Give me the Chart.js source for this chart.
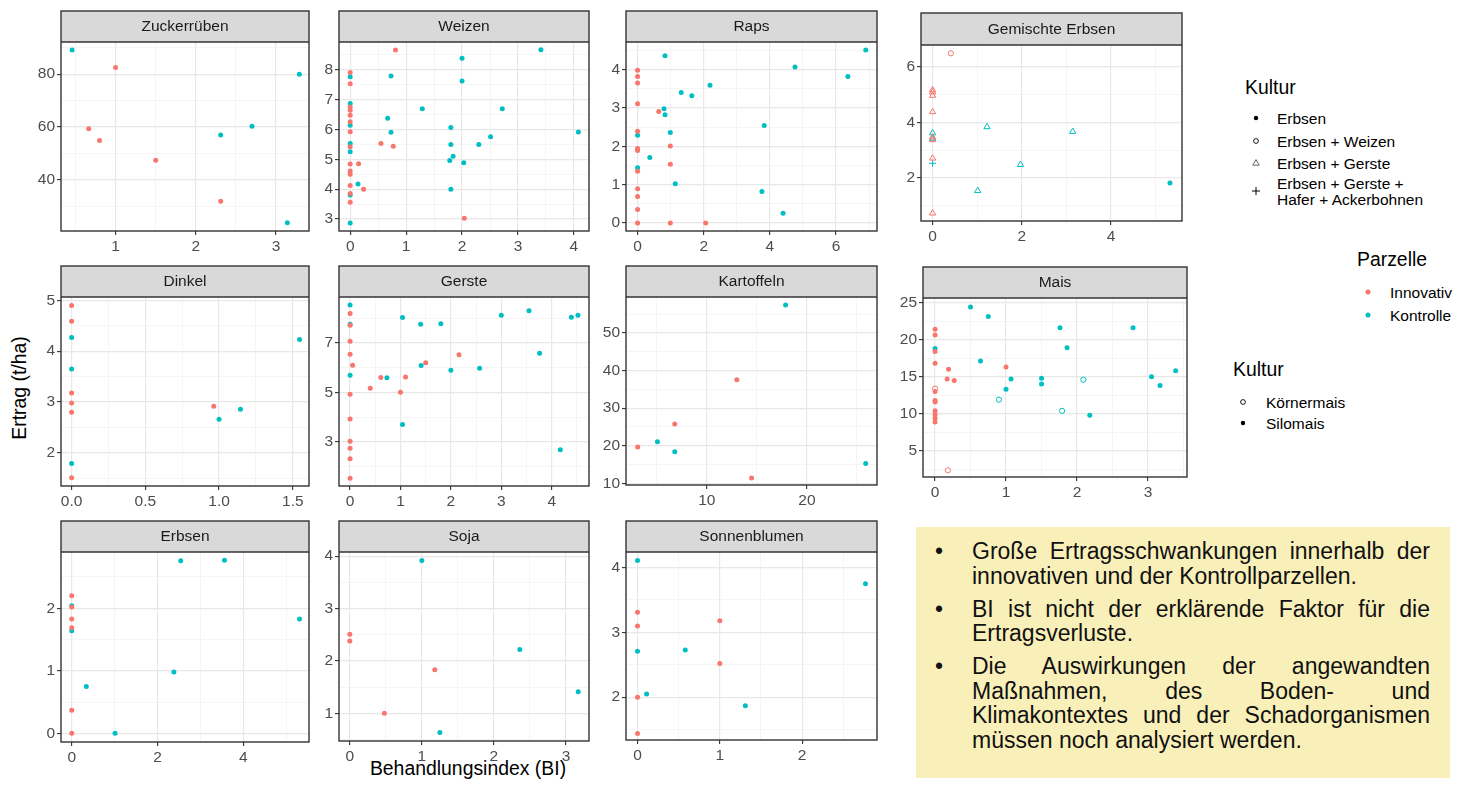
<!DOCTYPE html>
<html lang="de">
<head>
<meta charset="utf-8">
<title>Ertrag und Behandlungsindex</title>
<script src="https://cdn.jsdelivr.net/npm/chart.js@4.4.1/dist/chart.umd.min.js"></script>
<style>
  body { margin: 0; width: 1459px; height: 787px; position: relative; background: #fff; overflow: hidden;
         font-family: "Liberation Sans", Arial, sans-serif; }
  canvas { position: absolute; }
  .ttl { position: absolute; font-size: 19.4px; line-height: 1; color: #000; white-space: nowrap; }
  .lg { position: absolute; font-size: 15.5px; line-height: 1; color: #000; white-space: nowrap; }
  .sym { position: absolute; }
  .note { position: absolute; left: 916px; top: 527px; width: 534px; height: 251px; background: #F9F0B9;
          box-sizing: border-box; padding: 12px 20px 0 56px; font-size: 23px; line-height: 24.5px; color: #111; }
  .note p { margin: 0 0 8.5px 0; text-align: justify; position: relative; }
  .note p::before { content: "•"; position: absolute; left: -37px; }
</style>
</head>
<body>

<div class="ttl" style="left:20px; top:388px; transform: translate(-50%, -50%) rotate(-90deg);">Ertrag (t/ha)</div>
<div class="ttl" style="left:468px; top:759px; transform: translateX(-50%);">Behandlungsindex (BI)</div>

<!-- Legenden -->
<div class="ttl" style="left:1245px; top:78px;">Kultur</div>
<svg class="sym" style="left:1250px; top:112px;" width="12" height="12"><circle cx="6" cy="6" r="2.2" fill="#000"/></svg>
<div class="lg" style="left:1277px; top:111px;">Erbsen</div>
<svg class="sym" style="left:1250px; top:135px;" width="12" height="12"><circle cx="6" cy="6" r="2.4" fill="none" stroke="#000" stroke-width="0.9"/></svg>
<div class="lg" style="left:1277px; top:134px;">Erbsen + Weizen</div>
<svg class="sym" style="left:1250px; top:157px;" width="12" height="12"><polygon points="6,2.6 9.2,8.2 2.8,8.2" fill="none" stroke="#555" stroke-width="0.9"/></svg>
<div class="lg" style="left:1277px; top:156px;">Erbsen + Gerste</div>
<svg class="sym" style="left:1250px; top:185px;" width="12" height="12"><path d="M6 2 V10 M2 6 H10" stroke="#000" stroke-width="1"/></svg>
<div class="lg" style="left:1277px; top:176px;">Erbsen + Gerste +</div>
<div class="lg" style="left:1277px; top:192px;">Hafer + Ackerbohnen</div>

<div class="ttl" style="left:1357px; top:250px;">Parzelle</div>
<svg class="sym" style="left:1362px; top:286px;" width="12" height="12"><circle cx="6" cy="6" r="2.5" fill="#F8766D"/></svg>
<div class="lg" style="left:1390px; top:285px;">Innovativ</div>
<svg class="sym" style="left:1362px; top:309px;" width="12" height="12"><circle cx="6" cy="6" r="2.5" fill="#00BFC4"/></svg>
<div class="lg" style="left:1390px; top:308px;">Kontrolle</div>

<div class="ttl" style="left:1233px; top:360px;">Kultur</div>
<svg class="sym" style="left:1237px; top:396px;" width="12" height="12"><circle cx="6" cy="6" r="2.4" fill="none" stroke="#000" stroke-width="0.9"/></svg>
<div class="lg" style="left:1266px; top:395px;">Körnermais</div>
<svg class="sym" style="left:1237px; top:417px;" width="12" height="12"><circle cx="6" cy="6" r="2.2" fill="#000"/></svg>
<div class="lg" style="left:1266px; top:416px;">Silomais</div>

<div class="note">
  <p>Große Ertragsschwankungen innerhalb der innovativen und der Kontrollparzellen.</p>
  <p>BI ist nicht der erklärende Faktor für die Ertragsverluste.</p>
  <p>Die Auswirkungen der angewandten Maßnahmen, des Boden- und Klimakontextes und der Schadorganismen müssen noch analysiert werden.</p>
</div>

<script>
// Farben der Parzellen
const INNO = "#F8766D";
const KONTR = "#00BFC4";

// Daten [BI, Ertrag] je Kultur und Parzelle
const zuckerInno = [[1.0, 82.5], [0.665, 59.3], [0.8, 54.9], [1.5, 47.4], [2.31, 31.9]];
const zuckerKontr = [[0.458, 89.2], [3.29, 80.0], [2.31, 57.0], [2.7, 60.3], [3.14, 23.7]];

const weizenInno = [
  [0.81, 8.65], [0, 7.9], [0, 7.52], [0, 6.75], [0, 6.64], [0, 6.47], [0, 6.25], [0, 5.92],
  [0.55, 5.53], [0.77, 5.43], [0, 5.42], [0, 4.84], [0.15, 4.85], [0, 4.61], [0, 4.5],
  [0, 4.12], [0.24, 4.0], [0, 3.85], [0, 3.56], [2.04, 3.03]
];
const weizenKontr = [
  [3.41, 8.66], [2.0, 8.38], [2.0, 7.62], [0.73, 7.78], [0, 7.76], [0, 6.86], [1.29, 6.69],
  [2.72, 6.69], [0.67, 6.37], [0, 6.14], [1.8, 6.06], [0.73, 5.9], [4.08, 5.91], [2.51, 5.75],
  [0, 5.53], [1.8, 5.49], [2.3, 5.49], [0, 5.25], [1.84, 5.1], [1.78, 4.96], [2.03, 4.88],
  [0.14, 4.17], [1.8, 4.0], [0, 3.8], [0, 2.87]
];

const rapsInno = [
  [0, 3.98], [0, 3.82], [0, 3.65], [0, 3.11], [0.64, 2.91], [0, 2.39], [0.99, 2.01], [0, 1.94],
  [0, 1.89], [0.99, 1.53], [0, 1.35], [0, 0.89], [0, 0.69], [0, 0.35], [0, 0], [0.99, 0], [2.06, 0]
];
const rapsKontr = [
  [6.9, 4.51], [0.83, 4.36], [4.76, 4.07], [6.36, 3.82], [2.19, 3.59], [1.32, 3.4], [1.64, 3.32],
  [0.8, 2.98], [0.83, 2.82], [3.83, 2.54], [0.99, 2.36], [0, 2.29], [0.37, 1.71], [0, 1.44],
  [1.14, 1.02], [3.76, 0.82], [4.4, 0.25]
];

const gemInnoGerste = [[0, 5.17], [0, 5.09], [0, 4.97], [0, 4.38], [0, 3.47], [0, 3.37], [0, 2.71], [0, 0.73]];
const gemInnoWeizen = [[0.41, 6.49]];
const gemKontrGerste = [[0, 3.62], [0, 3.42], [1.22, 3.84], [3.14, 3.67], [1.97, 2.48], [1.01, 1.54]];
const gemKontrMisch = [[0, 2.53]];
const gemKontrErbsen = [[5.32, 1.82]];

const dinkelInno = [[0, 4.9], [0, 4.59], [0, 3.18], [0, 2.98], [0, 2.8], [0, 1.51], [0.964, 2.92]];
const dinkelKontr = [[0, 4.27], [0, 3.65], [0, 1.79], [1.0, 2.66], [1.145, 2.86], [1.546, 4.23]];

const gersteInno = [
  [0, 8.18], [0, 7.71], [0, 7.07], [0, 6.54], [0.05, 6.1], [0.61, 5.6], [1.1, 5.62], [1.5, 6.2],
  [2.16, 6.52], [0.4, 5.17], [1.0, 5.01], [0, 4.93], [0, 3.93], [0, 3.03], [0, 2.75], [0, 2.33], [0, 1.54]
];
const gersteKontr = [
  [0, 8.53], [0, 7.75], [0, 5.7], [1.04, 8.02], [1.4, 7.75], [1.8, 7.77], [3.0, 8.11], [3.55, 8.3],
  [4.39, 8.03], [4.52, 8.11], [3.76, 6.58], [0.73, 5.59], [1.41, 6.09], [2.0, 5.9], [2.57, 5.98],
  [1.04, 3.71], [4.17, 2.69]
];

const kartInno = [[3.1, 19.7], [6.8, 25.8], [13.0, 37.6], [14.47, 11.4]];
const kartKontr = [[17.87, 57.5], [5.07, 21.1], [6.8, 18.4], [25.87, 15.3]];

const maisInnoSilo = [
  [0, 21.4], [0, 20.6], [0, 18.4], [0, 16.8], [0.19, 16.0], [0.17, 14.7], [0.27, 14.5], [1.0, 16.3],
  [0, 13.0], [0, 11.8], [0, 11.6], [0, 10.4], [0, 9.9], [0, 9.4], [0, 8.9]
];
const maisInnoKoern = [[0.18, 2.4], [0, 13.4]];
const maisKontrSilo = [
  [0.5, 24.4], [0.75, 23.1], [0, 18.8], [0.64, 17.1], [1.76, 21.6], [1.86, 18.9], [2.79, 21.6],
  [1.07, 14.7], [1.0, 13.3], [1.5, 14.8], [1.5, 14.0], [3.05, 15.0], [3.17, 13.8], [3.39, 15.8], [2.18, 9.8]
];
const maisKontrKoern = [[0.9, 11.9], [1.79, 10.4], [2.09, 14.6]];

const erbsenInno = [[0, 2.2], [0, 2.02], [0, 1.83], [0, 1.69], [0, 0.37], [0, 0]];
const erbsenKontr = [[2.54, 2.76], [3.56, 2.77], [5.31, 1.83], [2.38, 0.98], [0.34, 0.75], [1.01, 0], [0, 2.04], [0, 1.64]];

const sojaInno = [[0, 2.51], [0, 2.38], [1.18, 1.83], [0.48, 1.0]];
const sojaKontr = [[1.0, 3.92], [2.36, 2.22], [3.17, 1.41], [1.25, 0.63]];

const sonnenInno = [[0, 3.31], [0, 3.1], [1.0, 3.18], [1.0, 2.52], [0, 2.0], [0, 1.44]];
const sonnenKontr = [[0, 4.11], [0, 2.71], [0.11, 2.05], [0.58, 2.73], [1.31, 1.87], [2.77, 3.75]];

// Achsenticks und Wertebereiche
const zuckerXTicks = [1, 2, 3], zuckerYTicks = [40, 60, 80];
const zuckerXRange = [0.32, 3.41], zuckerYRange = [20.6, 92.2];
const weizenXTicks = [0, 1, 2, 3, 4], weizenYTicks = [3, 4, 5, 6, 7, 8];
const weizenXRange = [-0.2, 4.27], weizenYRange = [2.6, 8.92];
const rapsXTicks = [0, 2, 4, 6], rapsYTicks = [0, 1, 2, 3, 4];
const rapsXRange = [-0.35, 7.24], rapsYRange = [-0.21, 4.72];
const gemXTicks = [0, 2, 4], gemYTicks = [2, 4, 6];
const gemXRange = [-0.26, 5.59], gemYRange = [0.45, 6.79];
const dinkelXTicks = [0, 0.5, 1, 1.5], dinkelXLabels = ["0.0", "0.5", "1.0", "1.5"], dinkelYTicks = [2, 3, 4, 5];
const dinkelXRange = [-0.072, 1.61], dinkelYRange = [1.35, 5.065];
const gersteXTicks = [0, 1, 2, 3, 4], gersteYTicks = [3, 5, 7];
const gersteXRange = [-0.22, 4.74], gersteYRange = [1.23, 8.85];
const kartXTicks = [10, 20], kartYTicks = [10, 20, 30, 40, 50];
const kartXRange = [1.93, 27.0], kartYRange = [9.56, 59.6];
const maisXTicks = [0, 1, 2, 3], maisYTicks = [5, 10, 15, 20, 25];
const maisXRange = [-0.17, 3.55], maisYRange = [1.49, 25.6];
const erbsenXTicks = [0, 2, 4], erbsenYTicks = [0, 1, 2];
const erbsenXRange = [-0.25, 5.53], erbsenYRange = [-0.14, 2.9];
const sojaXTicks = [0, 1, 2, 3], sojaYTicks = [1, 2, 3, 4];
const sojaXRange = [-0.15, 3.32], sojaYRange = [0.47, 4.08];
const sonnenXTicks = [0, 1, 2], sonnenYTicks = [2, 3, 4];
const sonnenXRange = [-0.14, 2.91], sonnenYRange = [1.34, 4.24];

// Punktstile
const dot = (pts, color) => ({ pts, color, style: "circle", r: 2.5, fill: true });
const ring = (pts, color) => ({ pts, color, style: "circle", r: 2.6, fill: false });
const tri = (pts, color) => ({ pts, color, style: "triangle", r: 3.6, fill: false });
const plus = (pts, color) => ({ pts, color, style: "cross", r: 3.6, fill: false });

// Panels: [links, Streifen oben, rechts, unten], Streifenhöhe
const panels = [
  { title: "Zuckerrüben", box: [61, 11, 309, 231], strip: 31,
    x: { ticks: zuckerXTicks, range: zuckerXRange }, y: { ticks: zuckerYTicks, range: zuckerYRange },
    sets: [dot(zuckerInno, INNO), dot(zuckerKontr, KONTR)] },
  { title: "Weizen", box: [339, 11, 589, 231], strip: 31,
    x: { ticks: weizenXTicks, range: weizenXRange }, y: { ticks: weizenYTicks, range: weizenYRange },
    sets: [dot(weizenInno, INNO), dot(weizenKontr, KONTR)] },
  { title: "Raps", box: [626, 11, 877, 231], strip: 31,
    x: { ticks: rapsXTicks, range: rapsXRange }, y: { ticks: rapsYTicks, range: rapsYRange },
    sets: [dot(rapsInno, INNO), dot(rapsKontr, KONTR)] },
  { title: "Gemischte Erbsen", box: [921, 13, 1182, 221], strip: 32,
    x: { ticks: gemXTicks, range: gemXRange }, y: { ticks: gemYTicks, range: gemYRange },
    sets: [tri(gemInnoGerste, INNO), ring(gemInnoWeizen, INNO), tri(gemKontrGerste, KONTR),
           plus(gemKontrMisch, KONTR), dot(gemKontrErbsen, KONTR)] },
  { title: "Dinkel", box: [61, 266, 309, 486], strip: 31,
    x: { ticks: dinkelXTicks, labels: dinkelXLabels, range: dinkelXRange }, y: { ticks: dinkelYTicks, range: dinkelYRange },
    sets: [dot(dinkelInno, INNO), dot(dinkelKontr, KONTR)] },
  { title: "Gerste", box: [339, 266, 589, 486], strip: 31,
    x: { ticks: gersteXTicks, range: gersteXRange }, y: { ticks: gersteYTicks, range: gersteYRange },
    sets: [dot(gersteInno, INNO), dot(gersteKontr, KONTR)] },
  { title: "Kartoffeln", box: [626, 266, 877, 485], strip: 31,
    x: { ticks: kartXTicks, range: kartXRange }, y: { ticks: kartYTicks, range: kartYRange },
    sets: [dot(kartInno, INNO), dot(kartKontr, KONTR)] },
  { title: "Mais", box: [923, 267, 1187, 477], strip: 31,
    x: { ticks: maisXTicks, range: maisXRange }, y: { ticks: maisYTicks, range: maisYRange },
    sets: [dot(maisInnoSilo, INNO), ring(maisInnoKoern, INNO), dot(maisKontrSilo, KONTR), ring(maisKontrKoern, KONTR)] },
  { title: "Erbsen", box: [61, 521, 309, 742], strip: 31,
    x: { ticks: erbsenXTicks, range: erbsenXRange }, y: { ticks: erbsenYTicks, range: erbsenYRange },
    sets: [dot(erbsenInno, INNO), dot(erbsenKontr, KONTR)] },
  { title: "Soja", box: [339, 521, 589, 741], strip: 31,
    x: { ticks: sojaXTicks, range: sojaXRange }, y: { ticks: sojaYTicks, range: sojaYRange },
    sets: [dot(sojaInno, INNO), dot(sojaKontr, KONTR)] },
  { title: "Sonnenblumen", box: [626, 521, 877, 740], strip: 31,
    x: { ticks: sonnenXTicks, range: sonnenXRange }, y: { ticks: sonnenYTicks, range: sonnenYRange },
    sets: [dot(sonnenInno, INNO), dot(sonnenKontr, KONTR)] }
];

const FONT = "'Liberation Sans', Arial, sans-serif";
const near = (a, b) => Math.abs(a - b) < 1e-7;

// Haupt- und Nebenticks (Nebenticks in der Mitte wie bei ggplot)
const allTicks = (ax) => {
  const step = ax.ticks[1] - ax.ticks[0];
  const out = [];
  for (let v = ax.ticks[0] - step / 2; v <= ax.range[1] + 1e-9; v += step / 2) {
    if (v >= ax.range[0] - 1e-9) out.push(Math.round(v * 1e6) / 1e6);
  }
  return out;
};
const isMajor = (ax, v) => ax.ticks.some((t) => near(t, v));
const labelFor = (ax, v) => {
  const i = ax.ticks.findIndex((t) => near(t, v));
  if (i < 0) return "";
  return ax.labels ? ax.labels[i] : String(ax.ticks[i]);
};

// Streifen mit Titel und Rahmen um das Panel
const stripPlugin = {
  id: "strip",
  beforeDraw(chart, args, opts) {
    const { ctx, chartArea: a } = chart;
    ctx.save();
    ctx.fillStyle = "#fff";
    ctx.fillRect(a.left, a.top, a.right - a.left, a.bottom - a.top);
    ctx.fillStyle = "#D9D9D9";
    ctx.fillRect(a.left, a.top - opts.h, a.right - a.left, opts.h);
    ctx.fillStyle = "#1A1A1A";
    ctx.font = "15.5px " + FONT;
    ctx.textAlign = "center";
    ctx.textBaseline = "middle";
    ctx.fillText(opts.title, (a.left + a.right) / 2, a.top - opts.h / 2 + 0.5);
    ctx.restore();
  },
  afterDatasetsDraw(chart, args, opts) {
    const { ctx, chartArea: a } = chart;
    ctx.save();
    ctx.strokeStyle = "#333";
    ctx.lineWidth = 1.4;
    ctx.strokeRect(a.left, a.top - opts.h, a.right - a.left, a.bottom - a.top + opts.h);
    ctx.beginPath();
    ctx.moveTo(a.left, a.top);
    ctx.lineTo(a.right, a.top);
    ctx.stroke();
    ctx.restore();
  }
};

const axisOptions = (ax, dir, size) => ({
  type: "linear",
  min: ax.range[0],
  max: ax.range[1],
  afterBuildTicks: (s) => {
    s.ticks = allTicks(ax).map((v) => ({ value: v }));
  },
  afterFit: (s) => {
    if (dir === "x") {
      s.height = size;
      s.paddingLeft = 0;
      s.paddingRight = 0;
    } else {
      s.width = size;
      s.paddingTop = 0;
      s.paddingBottom = 0;
    }
  },
  ticks: {
    callback: (v) => labelFor(ax, v),
    font: { family: FONT, size: 15.5 },
    color: "#4D4D4D",
    padding: 2,
    autoSkip: false,
    maxRotation: 0,
    minRotation: 0
  },
  grid: {
    color: (c) => (c.tick && isMajor(ax, c.tick.value) ? "#E8E8E8" : "#F1F1F1"),
    lineWidth: (c) => (c.tick && isMajor(ax, c.tick.value) ? 1.2 : 0.7),
    tickColor: (c) => (c.tick && isMajor(ax, c.tick.value) ? "#333" : "rgba(0,0,0,0)"),
    tickWidth: 1.1,
    tickLength: 4,
    drawTicks: true
  },
  border: { display: false }
});

const makePanel = (p) => {
  const yW = 42, xH = 26, padR = 12;
  const plotW = p.box[2] - p.box[0];
  const plotH = p.box[3] - p.box[1] - p.strip;
  const cw = yW + plotW + padR;
  const ch = 2 + p.strip + plotH + xH;

  const cv = document.createElement("canvas");
  cv.width = cw;
  cv.height = ch;
  cv.style.left = p.box[0] - yW + "px";
  cv.style.top = p.box[1] - 2 + "px";
  cv.style.width = cw + "px";
  cv.style.height = ch + "px";
  document.body.appendChild(cv);

  const datasets = p.sets.map((s) => ({
    data: s.pts.map(([x, y]) => ({ x, y })),
    pointStyle: s.style,
    pointRadius: s.r,
    pointHoverRadius: s.r,
    backgroundColor: s.fill ? s.color : "rgba(0,0,0,0)",
    borderColor: s.color,
    borderWidth: s.fill ? 0 : 1,
    clip: false
  }));

  new Chart(cv, {
    type: "scatter",
    data: { datasets },
    options: {
      responsive: false,
      animation: false,
      devicePixelRatio: 1,
      layout: { padding: { top: 2 + p.strip, right: padR, left: 0, bottom: 0 } },
      plugins: {
        legend: { display: false },
        tooltip: { enabled: false },
        strip: { title: p.title, h: p.strip }
      },
      scales: {
        x: axisOptions(p.x, "x", xH),
        y: axisOptions(p.y, "y", yW)
      }
    },
    plugins: [stripPlugin]
  });
};

panels.forEach(makePanel);
</script>
</body>
</html>
